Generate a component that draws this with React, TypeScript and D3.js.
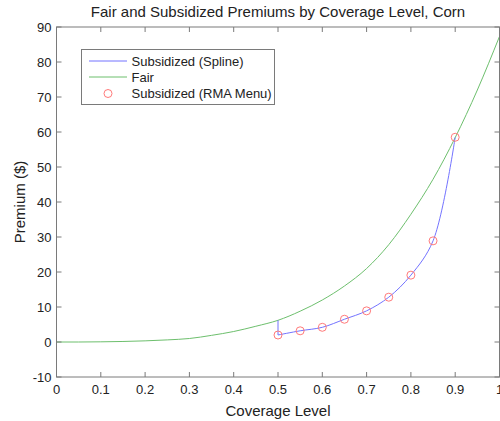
import React, { useEffect, useRef } from "react";
import * as d3 from "d3";

// coverage levels sampled along the fair premium curve
const fairCoverage = [0, 0.05, 0.1, 0.15, 0.2, 0.25, 0.3, 0.35, 0.4, 0.45, 0.5, 0.55, 0.6, 0.65, 0.7, 0.75, 0.8, 0.85, 0.9, 0.95, 1.0];
const fairPremium = [0, 0.0, 0.05, 0.15, 0.33, 0.6, 1.0, 1.9, 3.0, 4.5, 6.2, 8.8, 12.0, 16.0, 21.0, 27.8, 36.5, 46.5, 58.4, 72.0, 87.3];

// RMA menu coverage levels and subsidized premiums
const menuCoverage = [0.5, 0.55, 0.6, 0.65, 0.7, 0.75, 0.8, 0.85, 0.9];
const menuPremium = [2.0, 3.2, 4.2, 6.5, 8.9, 12.8, 19.1, 28.9, 58.5];

const xTicks = [0, 0.1, 0.2, 0.3, 0.4, 0.5, 0.6, 0.7, 0.8, 0.9, 1];
const yTicks = [-10, 0, 10, 20, 30, 40, 50, 60, 70, 80, 90];

const legendLabels = ["Subsidized (Spline)", "Fair", "Subsidized (RMA Menu)"];

const W = 500;
const H = 421;
const margin = { top: 27, right: 0.5, bottom: 44, left: 56.5 };
const FONT = "'Liberation Sans', Arial, Helvetica, sans-serif";

const BLUE = "#7373ff";
const GREEN = "#6dbf6d";
const RED = "#ff7a7a";
const AXIS = "#7a7a7a";
const TEXT = "#222";

const App = () => {
  const ref = useRef<SVGSVGElement>(null);

  useEffect(() => {
    const svg = d3.select(ref.current);
    svg.selectAll("*").remove();

    const x = d3.scaleLinear().domain([0, 1]).range([margin.left, W - margin.right]);
    const y = d3.scaleLinear().domain([-10, 90]).range([H - margin.bottom, margin.top]);

    const g = svg.append("g");

    // fair curve
    const fair = fairCoverage.map((c, i) => [c, fairPremium[i]] as [number, number]);
    const line = d3
      .line<[number, number]>()
      .x((d) => x(d[0]))
      .y((d) => y(d[1]));

    g.append("path")
      .attr("d", line.curve(d3.curveMonotoneX)(fair))
      .attr("fill", "none")
      .attr("stroke", GREEN)
      .attr("stroke-width", 1);

    // subsidized spline: drop from fair value at 50% to first menu point, then spline
    const menu = menuCoverage.map((c, i) => [c, menuPremium[i]] as [number, number]);
    g.append("path")
      .attr("d", line.curve(d3.curveLinear)([[0.5, fairPremium[10]], menu[0]]))
      .attr("fill", "none")
      .attr("stroke", BLUE)
      .attr("stroke-width", 1);
    g.append("path")
      .attr("d", line.curve(d3.curveCatmullRom.alpha(0.5))(menu))
      .attr("fill", "none")
      .attr("stroke", BLUE)
      .attr("stroke-width", 1);

    // menu markers
    g.append("g")
      .selectAll("circle")
      .data(menu)
      .join("circle")
      .attr("cx", (d) => x(d[0]))
      .attr("cy", (d) => y(d[1]))
      .attr("r", 4)
      .attr("fill", "none")
      .attr("stroke", RED)
      .attr("stroke-width", 1);

    // axes box with inward ticks on all sides
    const x0 = x(0), x1 = x(1), y0 = y(-10), y1 = y(90);
    g.append("rect")
      .attr("x", x0)
      .attr("y", y1)
      .attr("width", x1 - x0)
      .attr("height", y0 - y1)
      .attr("fill", "none")
      .attr("stroke", AXIS)
      .attr("stroke-width", 1);

    const tl = 5;
    const ticks = g.append("g").attr("stroke", AXIS).attr("stroke-width", 1);
    xTicks.forEach((t) => {
      ticks.append("line").attr("x1", x(t)).attr("x2", x(t)).attr("y1", y0).attr("y2", y0 - tl);
      ticks.append("line").attr("x1", x(t)).attr("x2", x(t)).attr("y1", y1).attr("y2", y1 + tl);
    });
    yTicks.forEach((t) => {
      ticks.append("line").attr("x1", x0).attr("x2", x0 + tl).attr("y1", y(t)).attr("y2", y(t));
      ticks.append("line").attr("x1", x1).attr("x2", x1 - tl).attr("y1", y(t)).attr("y2", y(t));
    });

    const labels = g.append("g").attr("font-family", FONT).attr("fill", TEXT).attr("font-size", 13);
    labels
      .selectAll("text.xt")
      .data(xTicks)
      .join("text")
      .attr("class", "xt")
      .attr("x", (d) => x(d))
      .attr("y", y0 + 17)
      .attr("text-anchor", "middle")
      .text((d) => d3.format("")(d));
    labels
      .selectAll("text.yt")
      .data(yTicks)
      .join("text")
      .attr("class", "yt")
      .attr("x", x0 - 5)
      .attr("y", (d) => y(d))
      .attr("dy", "0.35em")
      .attr("text-anchor", "end")
      .text((d) => d);

    // titles
    svg.append("text")
      .attr("x", (x0 + x1) / 2)
      .attr("y", 17)
      .attr("text-anchor", "middle")
      .attr("font-family", FONT)
      .attr("font-size", 15)
      .attr("fill", TEXT)
      .text("Fair and Subsidized Premiums by Coverage Level, Corn");
    svg.append("text")
      .attr("x", (x0 + x1) / 2)
      .attr("y", 416)
      .attr("text-anchor", "middle")
      .attr("font-family", FONT)
      .attr("font-size", 15)
      .attr("fill", TEXT)
      .text("Coverage Level");
    svg.append("text")
      .attr("transform", `translate(25,${(y0 + y1) / 2}) rotate(-90)`)
      .attr("text-anchor", "middle")
      .attr("font-family", FONT)
      .attr("font-size", 15)
      .attr("fill", TEXT)
      .text("Premium ($)");

    // legend
    const lg = svg.append("g").attr("transform", "translate(81.5,49.5)");
    lg.append("rect")
      .attr("width", 193)
      .attr("height", 55)
      .attr("fill", "white")
      .attr("stroke", AXIS)
      .attr("stroke-width", 1);
    const rowY = [11.5, 27.5, 44];
    const rowColor = [BLUE, GREEN, RED];
    legendLabels.forEach((lab, i) => {
      if (i < 2) {
        lg.append("line")
          .attr("x1", 7.5)
          .attr("x2", 45.5)
          .attr("y1", rowY[i])
          .attr("y2", rowY[i])
          .attr("stroke", rowColor[i])
          .attr("stroke-width", 1);
      } else {
        lg.append("circle")
          .attr("cx", 26.5)
          .attr("cy", rowY[i])
          .attr("r", 4)
          .attr("fill", "none")
          .attr("stroke", rowColor[i]);
      }
      lg.append("text")
        .attr("x", 50)
        .attr("y", rowY[i])
        .attr("dy", "0.35em")
        .attr("font-family", FONT)
        .attr("font-size", 13)
        .attr("fill", TEXT)
        .text(lab);
    });
  }, []);

  return (
    <svg
      ref={ref}
      width={W}
      height={H}
      style={{ position: "absolute", left: 0, top: 0, background: "white" }}
    ></svg>
  );
};

export default App;
